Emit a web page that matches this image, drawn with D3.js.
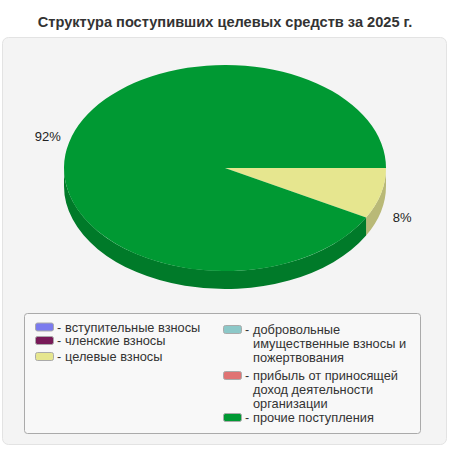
<!DOCTYPE html>
<html>
<head>
<meta charset="utf-8">
<script src="https://cdn.jsdelivr.net/npm/d3@7"></script>
<style>
  body { margin: 0; background: #fff; font-family: "Liberation Sans", Arial, sans-serif; }
</style>
</head>
<body>
<svg id="chart" width="450" height="450"></svg>
<script>
// données
const categories = [
  "вступительные взносы",
  "членские взносы",
  "целевые взносы",
  "добровольные имущественные взносы и пожертвования",
  "прибыль от приносящей доход деятельности организации",
  "прочие поступления"
];
const values = [0, 0, 8, 0, 0, 92];
const colors = ["#7b7bee", "#781a58", "#e6e68f", "#8cc8c8", "#e07373", "#009933"];
const sideColors = ["#5c5cb3", "#5a1342", "#b9b977", "#699696", "#a85656", "#007a29"];
// lignes de légende (déjà coupées comme sur l'image)
const legendLines = [
  ["вступительные взносы"],
  ["членские взносы"],
  ["целевые взносы"],
  ["добровольные", "имущественные взносы и", "пожертвования"],
  ["прибыль от приносящей", "доход деятельности", "организации"],
  ["прочие поступления"]
];
const title = "Структура поступивших целевых средств за 2025 г.";

const width = 450, height = 450;
const cx = 225, cy = 168, rx = 161, ry = 103, depth = 18;

const svg = d3.select("#chart");

// fond du panneau
svg.append("rect")
  .attr("x", 2.5).attr("y", 37.5)
  .attr("width", 444).attr("height", 407)
  .attr("rx", 6)
  .attr("fill", "#f4f4f4")
  .attr("stroke", "#e3e3e3");

svg.append("text")
  .text(title)
  .attr("x", width / 2)
  .attr("y", 27)
  .attr("text-anchor", "middle")
  .attr("font-weight", "bold")
  .attr("font-size", "14.6px")
  .attr("fill", "#333");

const data = categories.map((c, i) => ({ label: c, value: values[i], i }));

const pie = d3.pie()
  .sort(null)
  .value((d) => d.value)
  .startAngle(Math.PI / 2)
  .endAngle(Math.PI / 2 + 2 * Math.PI);

const arcs = pie(data).filter((d) => d.value > 0);

const pt = (a, dy = 0) => [cx + rx * Math.sin(a), cy - ry * Math.cos(a) + dy];

const g = svg.append("g");

// côtés (partie avant seulement)
arcs.forEach((d) => {
  for (let k = 0; k < 2; k++) {
    const lo = Math.max(d.startAngle, Math.PI / 2 + 2 * Math.PI * k);
    const hi = Math.min(d.endAngle, 1.5 * Math.PI + 2 * Math.PI * k);
    if (hi <= lo) continue;
    const p0 = pt(lo), p1 = pt(hi), q1 = pt(hi, depth), q0 = pt(lo, depth);
    g.append("path")
      .attr("d", `M${p0}A${rx},${ry} 0 0 1 ${p1}L${q1}A${rx},${ry} 0 0 0 ${q0}Z`)
      .attr("fill", sideColors[d.data.i]);
  }
});

// dessus
arcs.forEach((d) => {
  const large = d.endAngle - d.startAngle > Math.PI ? 1 : 0;
  g.append("path")
    .attr("d", `M${cx},${cy}L${pt(d.startAngle)}A${rx},${ry} 0 ${large} 1 ${pt(d.endAngle)}Z`)
    .attr("fill", colors[d.data.i]);
});

// étiquettes
const total = d3.sum(values);
arcs.forEach((d) => {
  const a = (d.startAngle + d.endAngle) / 2;
  const k = 22;
  const x = cx + (rx + k) * Math.sin(a);
  let y = cy - (ry + k) * Math.cos(a);
  if (-Math.cos(a) > 0) y += depth;
  g.append("text")
    .text(Math.round((d.value / total) * 100) + "%")
    .attr("x", x)
    .attr("y", y)
    .attr("dy", "0.35em")
    .attr("text-anchor", "middle")
    .attr("font-size", "13px")
    .attr("fill", "#222");
});

// légende
const legend = svg.append("g");
legend.append("rect")
  .attr("x", 24.5).attr("y", 313.5)
  .attr("width", 396).attr("height", 120)
  .attr("rx", 3)
  .attr("fill", "#f8f8f8")
  .attr("stroke", "#aaa");

const legendPos = [
  { x: 35, y: 327.5 },
  { x: 35, y: 341 },
  { x: 35, y: 357 },
  { x: 223, y: 330 },
  { x: 223, y: 376 },
  { x: 223, y: 418 }
];

categories.forEach((c, i) => {
  const p = legendPos[i];
  const item = legend.append("g");
  item.append("rect")
    .attr("x", p.x + 0.5).attr("y", p.y - 4.5)
    .attr("width", 18).attr("height", 8)
    .attr("rx", 2)
    .attr("fill", colors[i])
    .attr("stroke", "#aaa");
  item.append("text")
    .text("-")
    .attr("x", p.x + 22)
    .attr("y", p.y)
    .attr("dy", "0.35em")
    .attr("font-size", "12.5px")
    .attr("fill", "#333");
  legendLines[i].forEach((line, j) => {
    item.append("text")
      .text(line)
      .attr("x", p.x + 30)
      .attr("y", p.y + j * 14)
      .attr("dy", "0.35em")
      .attr("font-size", "12.8px")
      .attr("fill", "#333");
  });
});
</script>
</body>
</html>
